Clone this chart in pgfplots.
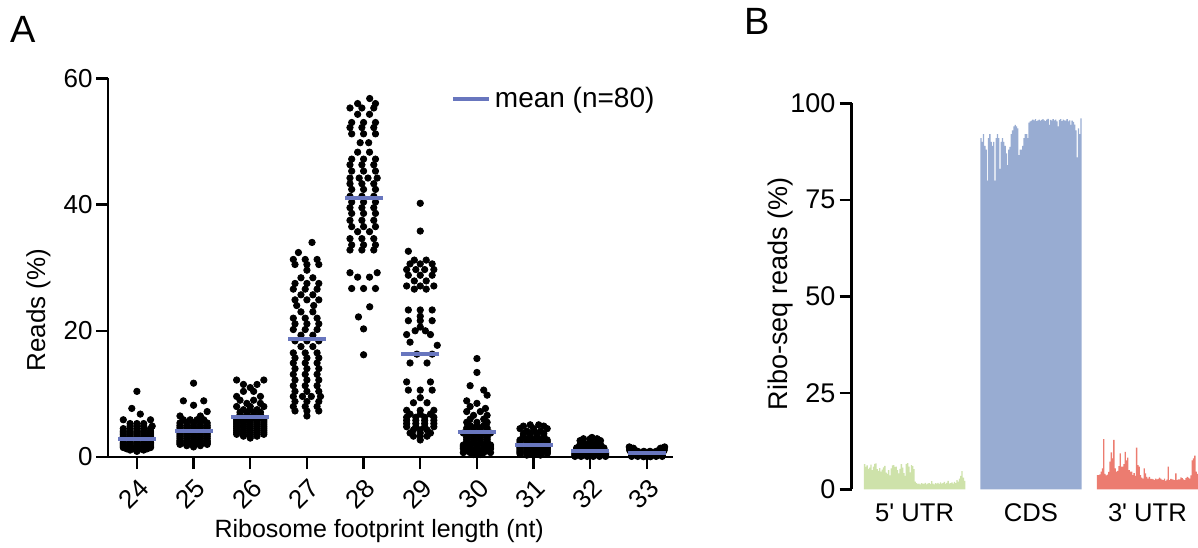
\documentclass[border=0pt]{standalone}
\usepackage{pgfplots}
\pgfplotsset{compat=1.18}
\usepackage{fontspec}
\setmainfont{Liberation Sans}
\definecolor{meanblue}{RGB}{104,118,190}
\definecolor{utrgreen}{RGB}{206,226,170}
\definecolor{cdsblue}{RGB}{152,172,210}
\definecolor{utrred}{RGB}{236,124,112}
\pgfplotsset{
  dots/.style={only marks, mark=*, mark size=1.6bp, mark options={draw=none, fill=black}, forget plot},
  bbar/.style={ybar, bar width=0.68bp, bar shift=0pt, draw=none, forget plot},
}
\begin{document}
\begin{tikzpicture}[x=1bp,y=1bp]
\path[use as bounding box] (0,0) rectangle (599,-273.5);
\node[anchor=base west, inner sep=0pt, font=\fontsize{19bp}{22bp}\selectfont] at (5,-21) {A};
\node[anchor=base west, inner sep=0pt, font=\fontsize{19bp}{22bp}\selectfont] at (372,-17) {B};

\begin{axis}[
  at={(54bp,-228.5bp)}, anchor=south west,
  scale only axis, width=282.5bp, height=189.35bp,
  xmin=23.49, xmax=33.46, ymin=0, ymax=60,
  axis x line*=bottom, axis y line*=left,
  axis line style={line width=1.3bp, -},
  xtick={24,...,33}, ytick={0,20,40,60},
  tick style={line width=1.2bp, black},
  tick align=outside, major tick length=6bp,
  tick label style={font=\fontsize{13bp}{15bp}\selectfont},
  /pgf/number format/assume math mode=true,
  xticklabel style={xshift=4bp, yshift=-7bp, rotate=45, anchor=east, inner sep=0.5bp},
  yticklabel style={inner sep=1.5bp},
  xlabel={Ribosome footprint length (nt)}, ylabel={Reads (\%)},
  label style={font=\fontsize{12.5bp}{15bp}\selectfont},
  xlabel style={at={(axis description cs:0.48,0)}, anchor=north, yshift=-27.5bp},
  ylabel style={at={(axis description cs:-0.123,0.388)}, anchor=center, font=\fontsize{13bp}{15bp}\selectfont},
  clip=false,
  legend style={draw=none, fill=none, at={(rel axis cs:0.607,0.9446)}, anchor=west, inner sep=0pt, outer sep=0pt, font=\fontsize{14bp}{16bp}\selectfont},
  legend cell align=left,
]
% 24
\addplot[dots] table[row sep=\\, x expr=24+0.06*\thisrow{k}, y=v] {k v\\
0 0.9\\ -2 1.1\\ 0 1.1\\ 2 1.1\\
-3 1.3\\ -1 1.3\\ 1 1.3\\ 3 1.3\\
-4 1.5\\ -2 1.5\\ 0 1.5\\ 2 1.5\\ 4 1.5\\
-4 1.7\\ -2 1.7\\ 0 1.7\\ 2 1.7\\ 4 1.7\\
-4 1.9\\ -2 1.9\\ 0 1.9\\ 2 1.9\\ 4 1.9\\
-4 2.1\\ -2 2.1\\ 0 2.1\\ 2 2.1\\ 4 2.1\\
-4 2.3\\ -2 2.3\\ 0 2.3\\ 2 2.3\\ 4 2.3\\
-4 2.6\\ -2 2.6\\ 0 2.6\\ 2 2.6\\ 4 2.6\\
-4 2.9\\ -2 2.9\\ 0 2.9\\ 2 2.9\\ 4 2.9\\
-4 3.2\\ -2 3.2\\ 0 3.2\\ 2 3.2\\ 4 3.2\\
-4 3.5\\ -2 3.5\\ 0 3.5\\ 2 3.5\\ 4 3.5\\
-4 3.8\\ -2 3.8\\ 0 3.8\\ 2 3.8\\ 4 3.8\\
-4 4.1\\ -2 4.1\\ 0 4.1\\ 2 4.1\\ 4 4.1\\
-4 4.5\\ -2 4.5\\ 0 4.5\\ 2 4.5\\ 4 4.5\\
-2 4.9\\ 0 4.9\\ 2 4.9\\ 4.5 4.9\\
-2 5.3\\ 0 5.3\\ 2 5.3\\
-4 5.9\\ 4 5.9\\ 1 6.8\\ -1.5 7.7\\ 0 10.4\\
};
% 25
\addplot[dots] table[row sep=\\, x expr=25+0.06*\thisrow{k}, y=v] {k v\\
0 1.6\\ -2 1.8\\ 0 1.8\\ 2 1.8\\
-4 2.0\\ -2 2.0\\ 0 2.0\\ 2 2.0\\ 4 2.0\\
-4 2.2\\ -2 2.2\\ 0 2.2\\ 2 2.2\\ 4 2.2\\
-4 2.4\\ -2 2.4\\ 0 2.4\\ 2 2.4\\ 4 2.4\\
-4 2.6\\ -2 2.6\\ 0 2.6\\ 2 2.6\\ 4 2.6\\
-4 2.9\\ -2 2.9\\ 0 2.9\\ 2 2.9\\ 4 2.9\\
-4 3.2\\ -2 3.2\\ 0 3.2\\ 2 3.2\\ 4 3.2\\
-4 3.5\\ -2 3.5\\ 0 3.5\\ 2 3.5\\ 4 3.5\\
-4 3.8\\ -2 3.8\\ 0 3.8\\ 2 3.8\\ 4 3.8\\
-4 4.1\\ -2 4.1\\ 0 4.1\\ 2 4.1\\ 4 4.1\\
-4 4.4\\ -2 4.4\\ 0 4.4\\ 2 4.4\\ 4 4.4\\
-4 4.7\\ -2 4.7\\ 0 4.7\\ 2 4.7\\ 4 4.7\\
-4 5.0\\ -2 5.0\\ 0 5.0\\ 2 5.0\\ 4 5.0\\
-4 5.4\\ -2 5.4\\ 0 5.4\\ 2 5.4\\ 4 5.4\\
-3 5.9\\ -1 5.9\\ 1 5.9\\ 3 5.9\\
-4 6.5\\ 2 6.5\\ 4 7.2\\ 0 8.2\\ -3 8.9\\ 3 8.9\\ 0 11.7\\
};
% 26
\addplot[dots] table[row sep=\\, x expr=26+0.06*\thisrow{k}, y=v] {k v\\
0 3.0\\ -2 3.3\\ 0 3.3\\ 2 3.3\\
-4 3.6\\ -2 3.6\\ 0 3.6\\ 2 3.6\\ 4 3.6\\
-4 3.9\\ -2 3.9\\ 0 3.9\\ 2 3.9\\ 4 3.9\\
-4 4.2\\ -2 4.2\\ 0 4.2\\ 2 4.2\\ 4 4.2\\
-4 4.5\\ -2 4.5\\ 0 4.5\\ 2 4.5\\ 4 4.5\\
-4 4.8\\ -2 4.8\\ 0 4.8\\ 2 4.8\\ 4 4.8\\
-4 5.1\\ -2 5.1\\ 0 5.1\\ 2 5.1\\ 4 5.1\\
-4 5.4\\ -2 5.4\\ 0 5.4\\ 2 5.4\\ 4 5.4\\
-4 5.7\\ -2 5.7\\ 0 5.7\\ 2 5.7\\ 4 5.7\\
-4 6.0\\ -2 6.0\\ 0 6.0\\ 2 6.0\\ 4 6.0\\
-3 6.3\\ -1 6.3\\ 1 6.3\\ 3 6.3\\
-3 6.7\\ -1 6.7\\ 1 6.7\\ 3 6.7\\
-3 7.1\\ -1 7.1\\ 1 7.1\\ 3 7.1\\
-2 7.5\\ 0 7.5\\ 2 7.5\\
-4 8.0\\ 0 8.0\\ 4 8.0\\
-1 8.5\\ 3 8.5\\ -3 9.0\\ 1 9.0\\ -4 9.6\\ 3 9.6\\ -2 10.4\\ 1 10.4\\
0 11.0\\ -2 11.5\\ 2 11.5\\ -4 12.2\\ 4 12.2\\
};
% 27
\addplot[dots] table[row sep=\\, x expr=27+0.06*\thisrow{k}, y=v] {k v\\
0 6.5\\
-3.5 7.3\\ 0 7.3\\ 3.5 7.3\\
-4 8.0\\ -0.5 8.0\\ 3 8.0\\
-3.5 8.8\\ 0 8.8\\ 3.5 8.8\\
-4 9.6\\ -1.3 9.6\\ 1.3 9.6\\ 4 9.6\\
-3.5 10.4\\ 0 10.4\\ 3.5 10.4\\
-4 11.3\\ -0.5 11.3\\ 3 11.3\\
-3.5 12.2\\ 0 12.2\\ 3.5 12.2\\
-4 13.1\\ -0.5 13.1\\ 3 13.1\\
-3.5 14.0\\ 0 14.0\\ 3.5 14.0\\
-4 14.9\\ -0.5 14.9\\ 3 14.9\\
-3.5 15.7\\ 0 15.7\\ 3.5 15.7\\
-4 16.5\\ -0.5 16.5\\ 3 16.5\\
-1.75 17.5\\ 1.75 17.5\\
-3.5 18.4\\ 0 18.4\\ 3.5 18.4\\
-1.75 19.3\\ 1.75 19.3\\
-4 20.2\\ -0.5 20.2\\ 3 20.2\\
-3.5 21.1\\ 0 21.1\\ 3.5 21.1\\
-4 22.0\\ -0.5 22.0\\ 3 22.0\\
-1.75 23.0\\ 1.75 23.0\\
-3 24.0\\ 2 24.0\\
-3.5 24.9\\ 0 24.9\\ 3.5 24.9\\
-1.75 25.7\\ 1.75 25.7\\
-4 26.6\\ -0.5 26.6\\ 3 26.6\\
-3.5 27.5\\ 0 27.5\\ 3.5 27.5\\
-1.75 28.4\\ 1.75 28.4\\
0 29.6\\
-3.5 30.5\\ 0 30.5\\ 3.5 30.5\\
-4 31.3\\ -0.5 31.3\\ 3 31.3\\
-2.5 32.4\\ 1.5 34.0\\
};
% 28
\addplot[dots] table[row sep=\\, x expr=28+0.06*\thisrow{k}, y=v] {k v\\
0 16.2\\ 0 20.3\\ -1.5 22.2\\ 1.8 23.8\\
-3.5 26.7\\ 0 26.7\\ 3.5 26.7\\
-1.75 28.5\\ 1.75 28.5\\ -4 29.2\\ 4 29.2\\
-4 32.8\\ -0.5 32.8\\ 3 32.8\\
-3.5 33.6\\ 0 33.6\\ 3.5 33.6\\
-4 34.6\\ -0.5 34.6\\ 3 34.6\\
-1.75 35.7\\ 1.75 35.7\\
-3.5 36.5\\ 0 36.5\\ 3.5 36.5\\
-4 37.5\\ -0.5 37.5\\ 3 37.5\\
-3.5 38.6\\ 0 38.6\\ 3.5 38.6\\
-4 39.5\\ -0.5 39.5\\ 3 39.5\\
-3.5 40.4\\ 0 40.4\\ 3.5 40.4\\
-4 41.3\\ -0.5 41.3\\ 3 41.3\\
-3.5 42.4\\ 0 42.4\\ 3.5 42.4\\
-4 43.3\\ -0.5 43.3\\ 3 43.3\\
-4 44.2\\ -1.3 44.2\\ 1.3 44.2\\ 4 44.2\\
-3.5 45.3\\ 0 45.3\\ 3.5 45.3\\
-4 46.3\\ -0.5 46.3\\ 3 46.3\\
-3.5 47.2\\ 0 47.2\\ 3.5 47.2\\
-1.75 48.3\\ 1.75 48.3\\
-1 49.8\\ 1.5 49.8\\
-3.5 51.2\\ 0 51.2\\ 3.5 51.2\\
-4 52.2\\ -0.5 52.2\\ 3 52.2\\
-3.5 53.0\\ 0 53.0\\ 3.5 53.0\\
-1.75 54.3\\ 1.75 54.3\\
-4 55.3\\ -0.5 55.3\\ 3 55.3\\
-1.75 56.0\\ 3.5 56.0\\
1.8 56.8\\
};
% 29
\addplot[dots] table[row sep=\\, x expr=29+0.06*\thisrow{k}, y=v] {k v\\
0 2.7\\
-2 3.3\\ 0 3.3\\ 2 3.3\\
-3 3.8\\ 0 3.8\\ 3 3.8\\
-2 4.3\\ 0 4.3\\ 2 4.3\\
-4 4.8\\ -1.3 4.8\\ 1.3 4.8\\ 4 4.8\\
-4 5.3\\ -1.3 5.3\\ 1.3 5.3\\ 4 5.3\\
-4 5.8\\ -1.3 5.8\\ 1.3 5.8\\ 4 5.8\\
-4 6.3\\ -1.3 6.3\\ 1.3 6.3\\ 4 6.3\\
-3 6.8\\ 0 6.8\\ 3 6.8\\
-4 7.4\\ 0 7.4\\ 4 7.4\\
-2 8.6\\ 2 8.6\\ 0 9.4\\
-3.5 10.6\\ 0 10.6\\ 3.5 10.6\\
-4 11.9\\ 3 11.9\\
-3 14.9\\ 2 14.9\\ -1 16.3\\ 3.5 16.3\\ 5 17.7\\ -3 18.2\\
-4 19.4\\ 3 19.4\\ -1.5 20.0\\ 1.5 20.0\\ 0 20.6\\
-3.5 21.6\\ 0 21.6\\ 3.5 21.6\\ 0 22.3\\
-3.5 23.3\\ 0 23.3\\ 3.5 23.3\\
-1.75 26.6\\ 1.75 26.6\\
-4 27.1\\ 0 27.1\\ 4 27.1\\
-1.75 27.9\\ 1.75 27.9\\
-3.5 28.8\\ 0 28.8\\ 3.5 28.8\\
-4 29.7\\ -1.3 29.7\\ 1.3 29.7\\ 4 29.7\\
-3 30.6\\ 0 30.6\\ 3.5 30.6\\
-1.75 31.2\\ 1.75 31.2\\
-3.5 32.6\\ 0 35.8\\ 0 40.2\\
};
% 30
\addplot[dots] table[row sep=\\, x expr=30+0.06*\thisrow{k}, y=v] {k v\\
-1 0.4\\ 1 0.4\\
-4 0.7\\ -2 0.7\\ 0 0.7\\ 2 0.7\\ 4 0.7\\
-3 1.0\\ -1 1.0\\ 1 1.0\\ 3 1.0\\
-4 1.3\\ -2 1.3\\ 0 1.3\\ 2 1.3\\ 4 1.3\\
-4 1.6\\ -2 1.6\\ 0 1.6\\ 2 1.6\\ 4 1.6\\
-4 1.9\\ -2 1.9\\ 0 1.9\\ 2 1.9\\ 4 1.9\\
-3 2.2\\ -1 2.2\\ 1 2.2\\ 3 2.2\\
-3 2.5\\ -1 2.5\\ 1 2.5\\ 3 2.5\\
-3 2.8\\ -1 2.8\\ 1 2.8\\ 3 2.8\\
-3 3.1\\ -1 3.1\\ 1 3.1\\ 3 3.1\\
-3 3.4\\ -1 3.4\\ 1 3.4\\ 3 3.4\\
-4 3.8\\ -2 3.8\\ 0 3.8\\ 2 3.8\\ 4 3.8\\
-3 4.2\\ -1 4.2\\ 1 4.2\\ 3 4.2\\
-3 4.6\\ -1 4.6\\ 1 4.6\\ 3 4.6\\
-2 5.0\\ 0 5.0\\ 2 5.0\\
-3 5.5\\ 0 5.5\\ 3 5.5\\
-2 6.0\\ 2 6.0\\ -1 6.6\\ 3 6.6\\ -3 7.2\\ 1 7.2\\
2.5 7.7\\ -2 8.0\\ 0 8.5\\ -3 8.9\\ 3 9.8\\ 2 10.6\\ -2 11.3\\ 0 13.4\\ 0 15.6\\
};
% 31
\addplot[dots] table[row sep=\\, x expr=31+0.06*\thisrow{k}, y=v] {k v\\
-2 0.3\\ 0 0.3\\ 2 0.3\\
-4 0.5\\ -2 0.5\\ 0 0.5\\ 2 0.5\\ 4 0.5\\
-4 0.7\\ -2 0.7\\ 0 0.7\\ 2 0.7\\ 4 0.7\\
-4 0.9\\ -2 0.9\\ 0 0.9\\ 2 0.9\\ 4 0.9\\
-4 1.1\\ -2 1.1\\ 0 1.1\\ 2 1.1\\ 4 1.1\\
-4 1.3\\ -2 1.3\\ 0 1.3\\ 2 1.3\\ 4 1.3\\
-4 1.5\\ -2 1.5\\ 0 1.5\\ 2 1.5\\ 4 1.5\\
-4 1.7\\ -2 1.7\\ 0 1.7\\ 2 1.7\\ 4 1.7\\
-4 1.9\\ -2 1.9\\ 0 1.9\\ 2 1.9\\ 4 1.9\\
-4 2.1\\ -2 2.1\\ 0 2.1\\ 2 2.1\\ 4 2.1\\
-4 2.4\\ -2 2.4\\ 0 2.4\\ 2 2.4\\ 4 2.4\\
-4 2.7\\ -2 2.7\\ 0 2.7\\ 2 2.7\\ 4 2.7\\
-3 3.0\\ -1 3.0\\ 1 3.0\\ 3 3.0\\
-3 3.3\\ -1 3.3\\ 1 3.3\\ 3 3.3\\
-3 3.7\\ -1 3.7\\ 1 3.7\\ 3 3.7\\
-2 4.1\\ 0 4.1\\ 2 4.1\\
-4 4.5\\ 0 4.5\\ 4 4.5\\
-3 4.9\\ 3 4.9\\ -1 5.1\\ 1.5 5.1\\
};
% 32
\addplot[dots] table[row sep=\\, x expr=32+0.06*\thisrow{k}, y=v] {k v\\
-4.5 0.1\\ -2.7 0.1\\ -0.9 0.1\\ 0.9 0.1\\ 2.7 0.1\\ 4.5 0.1\\
-4.5 0.25\\ -2.7 0.25\\ -0.9 0.25\\ 0.9 0.25\\ 2.7 0.25\\ 4.5 0.25\\
-4.5 0.4\\ -2.7 0.4\\ -0.9 0.4\\ 0.9 0.4\\ 2.7 0.4\\ 4.5 0.4\\
-4.5 0.55\\ -2.7 0.55\\ -0.9 0.55\\ 0.9 0.55\\ 2.7 0.55\\ 4.5 0.55\\
-4.5 0.7\\ -2.7 0.7\\ -0.9 0.7\\ 0.9 0.7\\ 2.7 0.7\\ 4.5 0.7\\
-4 0.85\\ -2 0.85\\ 0 0.85\\ 2 0.85\\ 4 0.85\\
-4 1.0\\ -2 1.0\\ 0 1.0\\ 2 1.0\\ 4 1.0\\
-4 1.15\\ -2 1.15\\ 0 1.15\\ 2 1.15\\ 4 1.15\\
-4 1.3\\ -2 1.3\\ 0 1.3\\ 2 1.3\\ 4 1.3\\
-4 1.45\\ -2 1.45\\ 0 1.45\\ 2 1.45\\ 4 1.45\\
-3 1.6\\ -1 1.6\\ 1 1.6\\ 3 1.6\\
-2 1.7\\ 0 1.7\\ 2 1.7\\
-3 1.8\\ -1 1.8\\ 1 1.8\\ 3 1.8\\
-3 2.0\\ -1 2.0\\ 1 2.0\\ 3 2.0\\
-2 2.3\\ 0 2.3\\ 2 2.3\\
-3 2.6\\ 0 2.6\\ 3 2.6\\
-2 2.9\\ 0 2.9\\ 2 2.9\\
0.5 3.1\\
};
% 33
\addplot[dots] table[row sep=\\, x expr=33+0.06*\thisrow{k}, y=v] {k v\\
-1 0.05\\ 1 0.05\\
-4.5 0.1\\ -2.7 0.1\\ -0.9 0.1\\ 0.9 0.1\\ 2.7 0.1\\ 4.5 0.1\\
-4.5 0.2\\ -2.7 0.2\\ -0.9 0.2\\ 0.9 0.2\\ 2.7 0.2\\ 4.5 0.2\\
-4.5 0.3\\ -2.7 0.3\\ -0.9 0.3\\ 0.9 0.3\\ 2.7 0.3\\ 4.5 0.3\\
-4.5 0.4\\ -2.7 0.4\\ -0.9 0.4\\ 0.9 0.4\\ 2.7 0.4\\ 4.5 0.4\\
-4.5 0.5\\ -2.7 0.5\\ -0.9 0.5\\ 0.9 0.5\\ 2.7 0.5\\ 4.5 0.5\\
-4.5 0.6\\ -2.7 0.6\\ -0.9 0.6\\ 0.9 0.6\\ 2.7 0.6\\ 4.5 0.6\\
-4.5 0.7\\ -2.7 0.7\\ -0.9 0.7\\ 0.9 0.7\\ 2.7 0.7\\ 4.5 0.7\\
-4.5 0.8\\ -2.7 0.8\\ -0.9 0.8\\ 0.9 0.8\\ 2.7 0.8\\ 4.5 0.8\\
-4.5 0.9\\ -2.7 0.9\\ -0.9 0.9\\ 0.9 0.9\\ 2.7 0.9\\ 4.5 0.9\\
-5 1.0\\ -3.6 1.0\\ 3.6 1.0\\ 5 1.0\\
-5 1.1\\ -3.6 1.1\\ 3.6 1.1\\ 5 1.1\\
-5 1.2\\ -3.8 1.2\\ 3.8 1.2\\ 5 1.2\\
-5 1.3\\ -4 1.3\\ 4 1.3\\ 5 1.3\\
-5 1.4\\ -4 1.4\\ 4 1.4\\ 5 1.4\\
-5 1.5\\ 5 1.5\\ -5.2 1.6\\ 5.2 1.6\\
};
% means
\addplot[only marks, mark=-, mark size=9.5bp, mark options={line width=2bp, draw=meanblue},
  legend image code/.code={\draw[line width=2bp, meanblue] (0bp,0bp) -- (18bp,0bp);}]
  coordinates {(24,2.9) (25,4.1) (26,6.4) (27,18.7) (28,41.0) (29,16.3) (30,4.0) (31,1.9) (32,1.0) (33,0.6)};
\addlegendentry{mean (n=80)}
\end{axis}

\begin{axis}[
  at={(425.85bp,-244.65bp)}, anchor=south west,
  scale only axis, width=173.15bp, height=193bp,
  xmin=-10.2, xmax=263.5, ymin=0, ymax=100,
  axis x line*=bottom, axis y line*=left,
  x axis line style={draw=none},
  y axis line style={line width=1.3bp, -},
  ytick={0,25,50,75,100},
  xtick={39.5,131.5,223.5},
  xticklabels={5\textquotesingle{} UTR, CDS, 3\textquotesingle{} UTR},
  xtick style={draw=none},
  ytick style={line width=1.2bp, black},
  tick align=outside, major tick length=6bp,
  tick label style={font=\fontsize{13.5bp}{15bp}\selectfont},
  /pgf/number format/assume math mode=true,
  yticklabel style={inner sep=2bp},
  xticklabel style={anchor=north, inner sep=0pt, yshift=-1bp, font=\fontsize{12.8bp}{15bp}\selectfont},
  ylabel={Ribo-seq reads (\%)},
  label style={font=\fontsize{13.5bp}{15bp}\selectfont},
  ylabel style={at={(axis description cs:-0.207,0.506)}, anchor=center},
  clip=false,
]
\addplot[bbar, fill=utrgreen] table[row sep=\\, header=false, x expr=\coordindex, y index=0] {
6.5\\5.8\\6.2\\5.3\\5.6\\6.4\\5.0\\5.9\\6.6\\6.7\\
5.2\\4.8\\5.5\\4.6\\5.1\\5.7\\6.1\\4.3\\4.0\\5.0\\
3.6\\5.4\\6.2\\6.3\\5.8\\5.9\\5.0\\4.1\\5.3\\6.5\\
5.6\\4.2\\3.5\\6.5\\6.8\\5.9\\4.4\\6.3\\6.0\\5.2\\
2.0\\1.6\\1.4\\1.5\\1.3\\1.6\\1.5\\1.4\\1.7\\1.3\\
1.5\\1.6\\1.4\\2.1\\1.5\\1.3\\1.6\\1.5\\1.7\\1.4\\
1.8\\1.5\\1.6\\1.9\\1.4\\1.7\\2.2\\1.5\\1.6\\1.8\\
1.5\\1.9\\1.6\\2.4\\2.0\\2.8\\3.5\\4.7\\3.0\\2.2\\
};
\addplot[bbar, fill=cdsblue] table[row sep=\\, header=false, x expr=\coordindex+92, y index=0] {
91\\90\\92\\89\\88\\80\\91\\92\\90\\89\\
90\\80\\91\\92\\91\\83\\90\\91\\90\\89\\
87\\84\\88\\88.7\\92\\93\\94\\94.4\\94\\93.5\\
86.6\\88\\88\\89\\91\\92\\92\\91\\95\\95.3\\
95.5\\95.8\\95.6\\95.9\\95.4\\95.6\\95.8\\95.5\\95.7\\95.9\\
95.6\\95.4\\95.8\\96\\94.4\\95.7\\95.5\\95.9\\95.6\\95.8\\
95.3\\94\\95.7\\95.9\\95.4\\95.8\\95.6\\95.5\\95.9\\95.3\\
95.6\\94.4\\95.5\\95.2\\94.5\\93\\86\\93.5\\92\\96.1\\
};
\addplot[bbar, fill=utrred] table[row sep=\\, header=false, x expr=\coordindex+184, y index=0] {
3.7\\3.7\\3.9\\4.6\\5.4\\13.0\\4.0\\3.6\\3.8\\4.5\\
7.2\\9.6\\8.0\\12.8\\5.4\\4.6\\4.8\\6.0\\9.3\\5.9\\
5.9\\6.5\\9.7\\7.5\\8.2\\5.0\\4.6\\4.6\\3.7\\4.2\\
3.5\\10.8\\6.3\\5.9\\3.7\\3.0\\2.8\\5.4\\4.1\\3.2\\
2.8\\3.2\\2.7\\2.7\\2.6\\2.4\\2.8\\2.6\\2.7\\3.0\\
2.8\\2.5\\2.4\\2.8\\2.2\\2.5\\5.9\\2.4\\2.7\\2.6\\
2.5\\2.4\\4.1\\2.4\\2.6\\2.6\\3.1\\2.9\\2.6\\2.4\\
2.9\\3.2\\3.0\\2.8\\3.6\\7.5\\8.0\\8.7\\4.6\\4.0\\
};
\end{axis}
\end{tikzpicture}
\end{document}
